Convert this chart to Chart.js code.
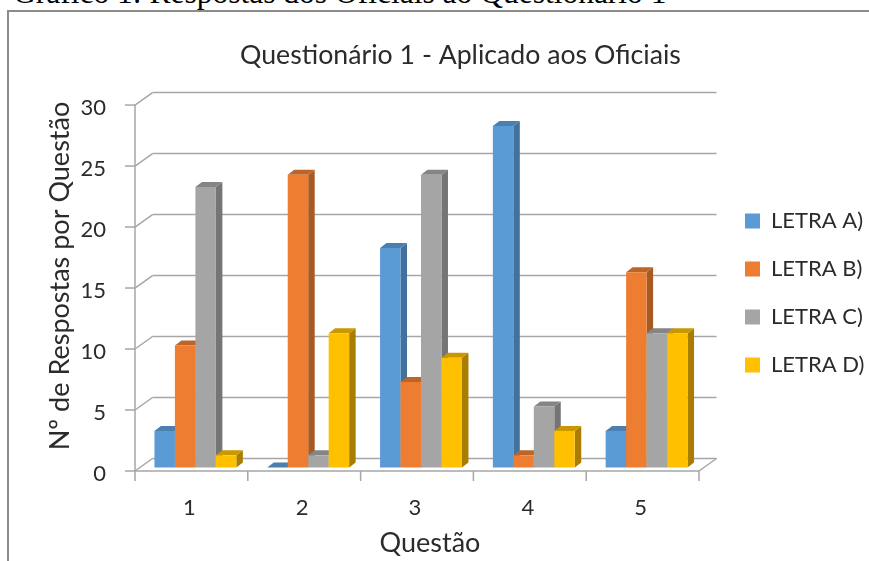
<!DOCTYPE html>
<html>
<head>
<meta charset="utf-8">
<title>Questionário 1</title>
<script src="https://cdn.jsdelivr.net/npm/chart.js@4/dist/chart.umd.min.js"></script>
<style>
    html, body { margin: 0; padding: 0; background: #fff; width: 869px; height: 561px; overflow: hidden; }
    #caption { position: absolute; left: 13px; top: -25px; font: 31.5px "Liberation Serif", serif; color: #000; white-space: nowrap; }
    #frame { position: absolute; left: 7px; top: 10px; width: 900px; height: 600px; border: 2px solid #8c8c8c; box-sizing: border-box; }
    canvas { position: absolute; left: 0; top: 0; }
</style>
</head>
<body>
<div id="caption">Gráfico 1: Respostas dos Oficiais ao Questionário 1</div>
<div id="frame"></div>
<canvas id="myChart" width="869" height="561"></canvas>
<script>
const questions = ['1', '2', '3', '4', '5'];
const letraA = [3, 0, 18, 28, 3];
const letraB = [10, 24, 7, 1, 16];
const letraC = [23, 1, 24, 5, 11];
const letraD = [1, 11, 9, 3, 11];

const FONT = 'Lato, "Open Sans", sans-serif';
const TEXT = '#2b2b2b';
const WALL = '#a6a6a6';

// depth of the floor/walls and of each bar
const WALL_DX = 17.5, WALL_DY = -12.5;
const BAR_DX = 6.5, BAR_DY = -5, BAR_SHIFT = 4, BAR_LIFT = -3.5;

function makeSet(label, data, front, side, top) {
    return { label: label, data: data, backgroundColor: front, borderWidth: 0, sideColor: side, topColor: top };
}

function poly(ctx, points, color) {
    ctx.fillStyle = color;
    ctx.beginPath();
    points.forEach((p, i) => i ? ctx.lineTo(p[0], p[1]) : ctx.moveTo(p[0], p[1]));
    ctx.closePath();
    ctx.fill();
}

function line(ctx, x1, y1, x2, y2) {
    ctx.beginPath();
    ctx.moveTo(x1, y1);
    ctx.lineTo(x2, y2);
    ctx.stroke();
}

function drawWalls(chart) {
    const ctx = chart.ctx;
    const { left, right, bottom } = chart.chartArea;
    const yScale = chart.scales.y, xScale = chart.scales.x;
    ctx.save();
    ctx.strokeStyle = WALL;
    ctx.lineWidth = 1.5;
    yScale.ticks.forEach(t => {
        const y = yScale.getPixelForValue(t.value);
        line(ctx, left - 10, y, left, y);
        line(ctx, left, y, left + WALL_DX, y + WALL_DY);
        line(ctx, left + WALL_DX, y + WALL_DY, right + WALL_DX, y + WALL_DY);
    });
    line(ctx, left, yScale.getPixelForValue(30), left, bottom);
    line(ctx, left, bottom, right, bottom);
    line(ctx, right, bottom, right + WALL_DX, bottom + WALL_DY);
    const step = (right - left) / questions.length;
    for (let i = 0; i <= questions.length; i++) {
        const x = xScale.getPixelForValue(0) - step / 2 + i * step;
        line(ctx, x, bottom, x, bottom + 10);
    }
    ctx.restore();
}

// side and top faces first, then the library's own bar as the front face
function drawBars(chart) {
    const ctx = chart.ctx;
    ctx.save();
    ctx.translate(BAR_SHIFT, BAR_LIFT);
    questions.forEach((q, i) => {
        chart.data.datasets.forEach((ds, d) => {
            const el = chart.getDatasetMeta(d).data[i];
            const x0 = el.x - el.width / 2, x1 = el.x + el.width / 2;
            const yTop = el.y, yBase = el.base;
            poly(ctx, [[x1, yTop], [x1 + BAR_DX, yTop + BAR_DY], [x1 + BAR_DX, yBase + BAR_DY], [x1, yBase]], ds.sideColor);
            poly(ctx, [[x0, yTop], [x0 + BAR_DX, yTop + BAR_DY], [x1 + BAR_DX, yTop + BAR_DY], [x1, yTop]], ds.topColor);
            el.draw(ctx);
        });
    });
    ctx.restore();
}

const bars3d = {
    id: 'bars3d',
    afterLayout(chart) {
        // title, axis titles and legend sit off-centre
        chart.titleBlock.left = 52;
        chart.titleBlock.right = 869;
        chart.scales.x.left += 13;
        chart.scales.x.right += 13;
        chart.scales.y.top -= 12;
        chart.scales.y.bottom -= 12;
        const legend = chart.legend;
        legend.left = 719;
        legend.right = 869;
        legend.top = 184;
        legend.bottom = 404;
    },
    beforeDatasetsDraw(chart) {
        drawWalls(chart);
        drawBars(chart);
    },
    beforeDatasetDraw() {
        return false;
    }
};

new Chart(document.getElementById('myChart'), {
    type: 'bar',
    data: {
        labels: questions,
        datasets: [
            makeSet('LETRA A)', letraA, '#5b9bd5', '#41719c', '#4a7fb0'),
            makeSet('LETRA B)', letraB, '#ed7d31', '#a85a23', '#bd6428'),
            makeSet('LETRA C)', letraC, '#a5a5a5', '#757575', '#858585'),
            makeSet('LETRA D)', letraD, '#ffc000', '#a87d00', '#c99700')
        ]
    },
    options: {
        responsive: false,
        animation: false,
        layout: { autoPadding: false, padding: { right: 170 } },
        datasets: { bar: { categoryPercentage: 0.726, barPercentage: 1 } },
        scales: {
            x: {
                afterFit(scale) { scale.height = 90; },
                grid: { display: false },
                border: { display: false },
                ticks: { color: TEXT, font: { family: FONT, size: 22 }, padding: 16, labelOffset: -2, maxRotation: 0 },
                title: {
                    display: true, text: 'Questão', color: TEXT,
                    font: { family: FONT, size: 27 }, padding: { top: 0, bottom: 2 }
                }
            },
            y: {
                min: 0,
                max: 30,
                afterFit(scale) { scale.width = 135; },
                grid: { display: false },
                border: { display: false },
                ticks: { stepSize: 5, color: TEXT, font: { family: FONT, size: 22 }, padding: 21, labelOffset: 3 },
                title: {
                    display: true, text: 'Nº de Respostas por Questão', color: TEXT,
                    font: { family: FONT, size: 27 }, padding: { top: 44, bottom: 0 }
                }
            }
        },
        plugins: {
            title: {
                display: true,
                text: 'Questionário 1 - Aplicado aos Oficiais',
                color: TEXT,
                font: { family: FONT, size: 26.7, weight: 'normal' },
                padding: { top: 39, bottom: 34 }
            },
            legend: {
                position: 'chartArea',
                align: 'start',
                labels: { boxWidth: 15, boxHeight: 15, padding: 26, color: TEXT, font: { family: FONT, size: 22 } }
            },
            tooltip: { enabled: false }
        }
    },
    plugins: [bars3d]
});
</script>
</body>
</html>
